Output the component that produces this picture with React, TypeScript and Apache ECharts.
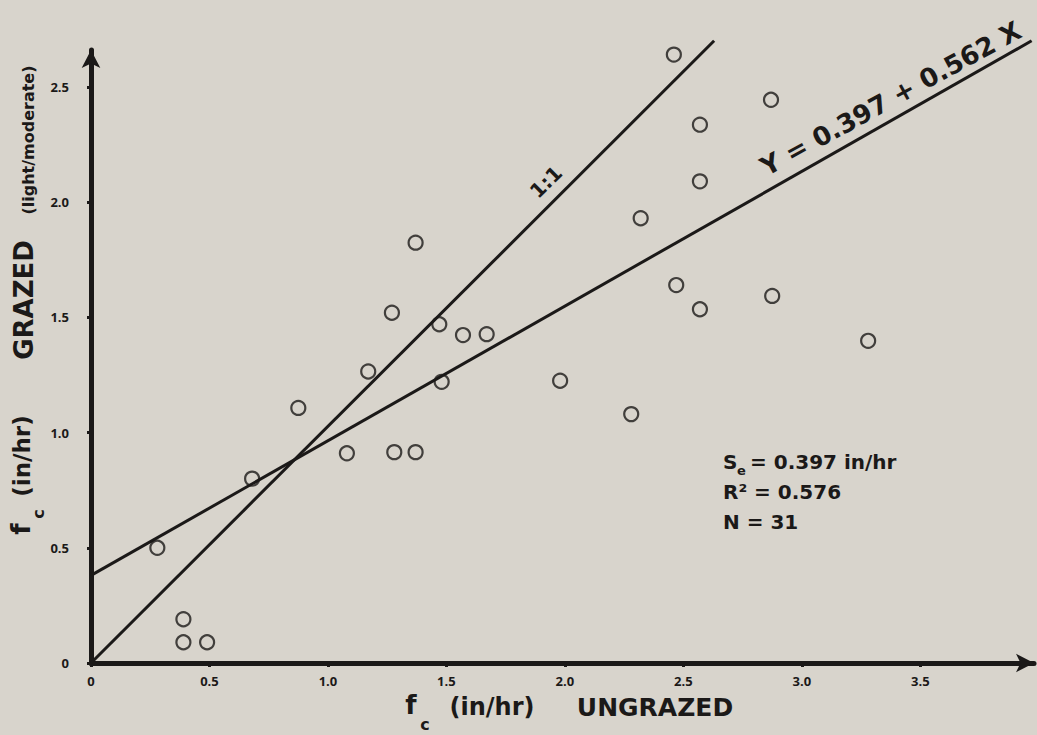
import React, { useEffect, useRef } from "react";
import * as echarts from "echarts";

// Scatter points (ungrazed vs grazed infiltration, in/hr)
const xUngrazed = [0.28, 0.39, 0.39, 0.49, 0.68, 0.875, 1.08, 1.17, 1.27, 1.28, 1.37, 1.37, 1.47, 1.48, 1.57, 1.67, 1.98, 2.28, 2.32, 2.46, 2.47, 2.57, 2.57, 2.57, 2.87, 2.875, 3.28];
const yGrazed = [0.5, 0.19, 0.09, 0.09, 0.8, 1.107, 0.91, 1.265, 1.52, 0.915, 0.915, 1.824, 1.47, 1.22, 1.423, 1.427, 1.225, 1.08, 1.93, 2.64, 1.64, 2.336, 2.09, 1.535, 2.444, 1.593, 1.398];

// Line end points as drawn
const oneToOneLine = [[0, 0], [2.63, 2.7]];
const regressionLine = [[0, 0.38], [3.97, 2.7]];

const tickValues = [0, 0.5, 1.0, 1.5, 2.0, 2.5, 3.0, 3.5];
const fmtTick = (v: number) => {
  const hit = tickValues.find((t) => Math.abs(t - v) < 1e-6);
  if (hit === undefined) return "";
  return hit === 0 ? "0" : hit.toFixed(1);
};

const FONT = "'DejaVu Sans', sans-serif";
const TICKFONT = "'Open Sans', 'DejaVu Sans', sans-serif";
const INK = "#1b1918";
const BG = "#d8d4cc";

export default function App() {
  const ref = useRef<HTMLDivElement>(null);
  useEffect(() => {
    if (!ref.current) return;
    const chart = echarts.init(ref.current, undefined, { renderer: "svg" });
    const pts = xUngrazed.map((x, i) => [x, yGrazed[i]]);
    const t = (text: string, x: number, y: number, size: number, extra: any = {}) => ({
      type: "text",
      x,
      y,
      rotation: extra.rotation || 0,
      style: {
        text,
        fill: INK,
        font: `bold ${size}px ${FONT}`,
        align: extra.align || "center",
        verticalAlign: extra.verticalAlign || "middle",
      },
    });
    const R = Math.PI / 2;
    chart.setOption({
      animation: false,
      backgroundColor: BG,
      grid: { left: 91, right: 3, top: 50, bottom: 72, containLabel: false },
      xAxis: {
        type: "value",
        min: 0,
        max: 3.98,
        interval: 0.5,
        splitLine: { show: false },
        axisLine: { onZero: false, symbol: ["none", "arrow"], symbolSize: [14, 18], lineStyle: { color: INK, width: 5 } },
        axisTick: { show: true, length: 4, lineStyle: { color: INK, width: 3 } },
        axisLabel: { formatter: fmtTick, showMaxLabel: false, margin: 11, color: INK, fontSize: 13, fontWeight: "bold", fontFamily: TICKFONT },
      },
      yAxis: {
        type: "value",
        min: 0,
        max: 2.66,
        interval: 0.5,
        splitLine: { show: false },
        axisLine: { onZero: false, symbol: ["none", "arrow"], symbolSize: [14, 18], lineStyle: { color: INK, width: 5 } },
        axisTick: { show: true, length: 4, lineStyle: { color: INK, width: 3 } },
        axisLabel: { formatter: fmtTick, showMaxLabel: false, margin: 22, color: INK, fontSize: 13, fontWeight: "bold", fontFamily: TICKFONT },
      },
      series: [
        {
          type: "line",
          data: oneToOneLine,
          clip: false,
          symbol: "none",
          lineStyle: { color: INK, width: 3 },
          z: 2,
        },
        {
          type: "line",
          data: regressionLine,
          clip: false,
          symbol: "none",
          lineStyle: { color: INK, width: 3 },
          z: 2,
        },
        {
          type: "scatter",
          data: pts,
          symbol: "circle",
          symbolSize: 14,
          clip: false,
          itemStyle: { color: "rgba(0,0,0,0)", borderColor: INK, borderWidth: 2.2 },
          z: 3,
        },
      ],
      graphic: [
        // equation along regression line
        t("Y = 0.397 + 0.562 X", 897, 110, 26, { rotation: 0.5, verticalAlign: "bottom" }),
        // 1:1 label
        t("1:1", 546, 182, 20, { rotation: Math.PI / 4 }),
        // stats block
        t("S", 723, 462, 20, { align: "left" }),
        t("e", 737, 470, 13, { align: "left" }),
        t("= 0.397 in/hr", 750, 462, 20, { align: "left" }),
        t("R\u00B2 = 0.576", 723, 492, 20, { align: "left" }),
        t("N = 31", 723, 522, 20, { align: "left" }),
        // x-axis title
        t("f", 411, 705, 26),
        t("c", 425, 724, 16),
        t("(in/hr)", 492, 707, 24),
        t("UNGRAZED", 655, 707, 25),
        // y-axis title (rotated)
        t("(light/moderate)", 28, 140, 16, { rotation: R }),
        t("GRAZED", 24, 300, 26, { rotation: R }),
        t("(in/hr)", 22, 456, 23, { rotation: R }),
        t("f", 21, 529, 26, { rotation: R }),
        t("c", 38, 514, 16, { rotation: R }),
      ],
    });
    return () => chart.dispose();
  }, []);
  return (
    <div
      ref={ref}
      style={{ position: "fixed", left: 0, top: 0, width: 1037, height: 735 }}
    />
  );
}
